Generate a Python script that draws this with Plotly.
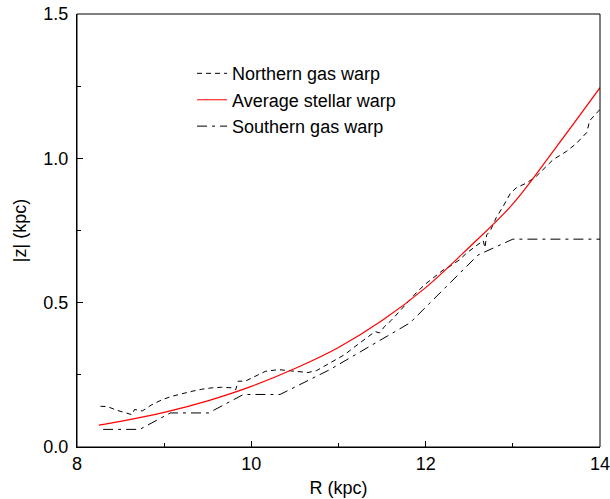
import plotly.graph_objects as go

# Average stellar warp (red, smooth)
stellar_R = [8.25, 8.5, 9.0, 9.5, 10.0, 10.5, 11.0, 11.5, 12.0, 12.5, 13.0, 13.5, 14.0]
stellar_z = [0.076, 0.089, 0.12, 0.16, 0.21, 0.272, 0.345, 0.438, 0.552, 0.692, 0.842, 1.04, 1.245]

# Northern gas warp (dashed)
north_R = [8.27, 8.35, 8.45, 8.55, 8.63, 8.66, 8.75, 8.85, 8.97, 9.08, 9.2, 9.32, 9.43,
           9.55, 9.66, 9.78, 9.82, 9.85, 9.93, 10.05, 10.16, 10.31, 10.5, 10.65, 10.75,
           10.84, 10.94, 11.07, 11.19, 11.34, 11.42, 11.47, 11.53, 11.61, 11.72, 11.82,
           11.91, 12.0, 12.09, 12.2, 12.28, 12.39, 12.47, 12.58, 12.66, 12.68, 12.7,
           12.74, 12.81, 12.89, 12.97, 13.04, 13.16, 13.27, 13.35, 13.46, 13.62, 13.73,
           13.85, 13.88, 13.98, 14.0]
north_z = [0.141, 0.14, 0.128, 0.12, 0.112, 0.13, 0.125, 0.145, 0.163, 0.175, 0.185, 0.193, 0.2,
           0.205, 0.207, 0.205, 0.198, 0.228, 0.228, 0.245, 0.262, 0.268, 0.263, 0.258, 0.265,
           0.28, 0.297, 0.32, 0.348, 0.383, 0.4, 0.395, 0.418, 0.44, 0.476, 0.508,
           0.54, 0.565, 0.588, 0.613, 0.626, 0.649, 0.672, 0.696, 0.715, 0.69, 0.735,
           0.748, 0.795, 0.834, 0.878, 0.898, 0.915, 0.938, 0.963, 0.995, 1.025, 1.052,
           1.09, 1.13, 1.163, 1.17]

# Southern gas warp (dash-dot)
south_R = [8.3, 8.72, 9.07, 9.51, 9.91, 10.33, 10.9, 11.82, 12.6, 13.0, 14.0]
south_z = [0.061, 0.061, 0.118, 0.118, 0.182, 0.182, 0.268, 0.43, 0.665, 0.72, 0.72]

x_ticks = [8, 10, 12, 14]
y_ticks = [0.0, 0.5, 1.0, 1.5]
x_range = [8, 14]
y_range = [0, 1.5]

FONT = "Liberation Sans, Arial, sans-serif"

fig = go.Figure()
fig.add_trace(go.Scatter(x=north_R, y=north_z, mode="lines", name="Northern gas warp",
                         line=dict(color="black", width=1, dash="5px,4px")))
fig.add_trace(go.Scatter(x=stellar_R, y=stellar_z, mode="lines", name="Average stellar warp",
                         line=dict(color="#ff0000", width=1.2, shape="spline")))
fig.add_trace(go.Scatter(x=south_R, y=south_z, mode="lines", name="Southern gas warp",
                         line=dict(color="black", width=1, dash="10px,5px,3px,5px")))

axis_common = dict(showline=True, linecolor="black", linewidth=1,
                   ticks="inside", ticklen=6, tickcolor="black", showgrid=False,
                   zeroline=False, automargin=False, ticklabeloverflow="allow",
                   tickfont=dict(size=18, color="black", family=FONT))

x_minor = dict(ticks="inside", ticklen=4, dtick=1, tickcolor="black", showgrid=False)
y_minor = dict(ticks="inside", ticklen=4, dtick=0.25, tickcolor="black", showgrid=False)

fig.update_layout(
    xaxis=dict(range=x_range, tickvals=x_ticks, ticktext=[str(v) for v in x_ticks],
               title=dict(text="R (kpc)", font=dict(size=18, color="black", family=FONT), standoff=8),
               minor=x_minor, **axis_common),
    yaxis=dict(range=y_range, tickvals=y_ticks, ticktext=[f"{v:.1f}" for v in y_ticks],
               title=dict(text="|z| (kpc)", font=dict(size=18, color="black", family=FONT), standoff=12),
               minor=y_minor, ticklabelstandoff=4, **axis_common),
)

# frame around the plotting area (top and right edges)
fig.add_shape(type="rect", xref="paper", yref="paper", x0=0, x1=1, y0=0, y1=1,
              line=dict(color="black", width=1), fillcolor="rgba(0,0,0,0)", layer="above")

fig.update_layout(
    width=610, height=499,
    margin=dict(l=77, r=10, t=14, b=52),
    paper_bgcolor="white", plot_bgcolor="white",
    font=dict(family=FONT, size=18, color="black"),
    legend=dict(x=0.22, y=0.905, xanchor="left", yanchor="top", bgcolor="rgba(0,0,0,0)",
                font=dict(size=18, color="black", family=FONT), tracegroupgap=0),
    showlegend=True,
)

fig.write_html("out.html", config={"displayModeBar": False},
               post_script="document.body.style.margin='0px';")
